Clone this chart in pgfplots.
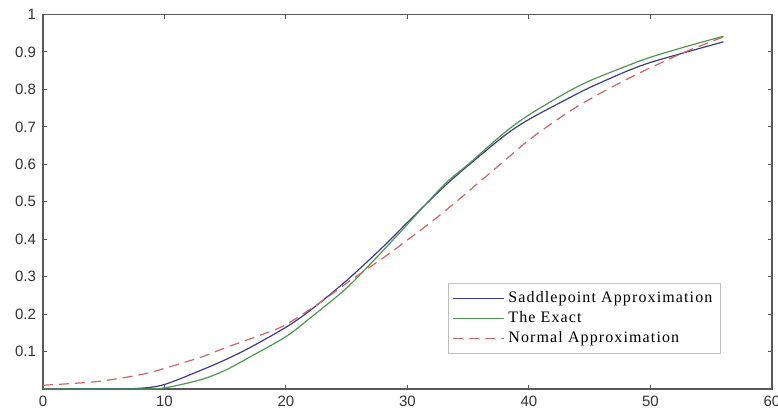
\documentclass[border=0pt]{standalone}
\usepackage{fontspec}
\setmainfont{Liberation Serif}
\newfontfamily\tickfont{Liberation Sans}
\newfontfamily\legfont{Liberation Serif}[LetterSpace=7]
\usepackage{pgfplots}
\pgfplotsset{compat=1.18}

\definecolor{saddle}{RGB}{60,60,140}
\definecolor{exact}{RGB}{80,150,80}
\definecolor{normal}{RGB}{210,100,100}

\begin{document}
\begin{tikzpicture}
\begin{axis}[
    name=ax,
    width=364.5pt, height=187.25pt,
    scale only axis,
    xmin=0, xmax=60, ymin=0, ymax=1,
    xtick={0,10,20,30,40,50,60},
    ytick={0.1,0.2,0.3,0.4,0.5,0.6,0.7,0.8,0.9,1},
    tick align=inside,
    major tick length=2pt,
    axis line style={draw=black!65, line width=0.6pt},
    tick style={draw=black!65, line width=0.5pt},
    /pgf/number format/assume math mode=true,
    ticklabel style={font=\tickfont\fontsize{7.5}{8}\selectfont, text=black!80},
    yticklabel style={/pgf/number format/fixed, /pgf/number format/precision=1},
    legend style={at={(axis cs:33.3,0.283)}, anchor=north west,
        draw=black!25, fill=white, line width=0.4pt,
        font=\legfont\fontsize{8}{9}\selectfont, row sep=-1pt,
        inner xsep=2pt, inner ysep=2pt},
    legend cell align=left,
    legend image code/.code={\draw[#1] (0cm,0cm) -- (0.9cm,0cm);},
]
\addplot[saddle, line width=0.6pt, smooth] coordinates {
    (0,0) (5,0) (8,0.002) (10,0.012) (13,0.05) (15,0.078) (17,0.11)
    (20,0.165) (22,0.21) (25,0.29) (28,0.38) (30,0.445) (33,0.54)
    (35,0.597) (38,0.677) (40,0.72) (43,0.772) (45,0.805) (48,0.848)
    (50,0.872) (53,0.90) (56,0.927)
};
\addlegendentry{Saddlepoint Approximation}
\addplot[exact, line width=0.6pt, smooth] coordinates {
    (0,0) (8,0) (10,0.003) (13,0.025) (15,0.05) (17,0.085) (20,0.14)
    (22,0.19) (25,0.27) (28,0.37) (30,0.44) (33,0.545) (35,0.60)
    (38,0.685) (40,0.732) (43,0.79) (45,0.823) (48,0.862) (50,0.886)
    (53,0.915) (56,0.942)
};
\addlegendentry{The Exact}
\addplot[normal, line width=0.6pt, smooth, dash pattern=on 5pt off 3pt] coordinates {
    (0,0.01) (3,0.016) (5,0.022) (8,0.038) (10,0.055) (13,0.085)
    (15,0.11) (18,0.145) (20,0.172) (23,0.235) (25,0.283) (28,0.35)
    (30,0.398) (32,0.447) (34,0.50) (36,0.555) (38,0.61) (40,0.665)
    (42,0.712) (44,0.755) (46,0.792) (48,0.826) (50,0.858) (53,0.902)
    (56,0.94)
};
\addlegendentry{Normal Approximation}
\end{axis}
\pgfresetboundingbox
\path ([xshift=-21.5pt,yshift=-9.5pt]ax.south west) rectangle ([xshift=3pt,yshift=7.25pt]ax.north east);
\end{tikzpicture}
\end{document}
